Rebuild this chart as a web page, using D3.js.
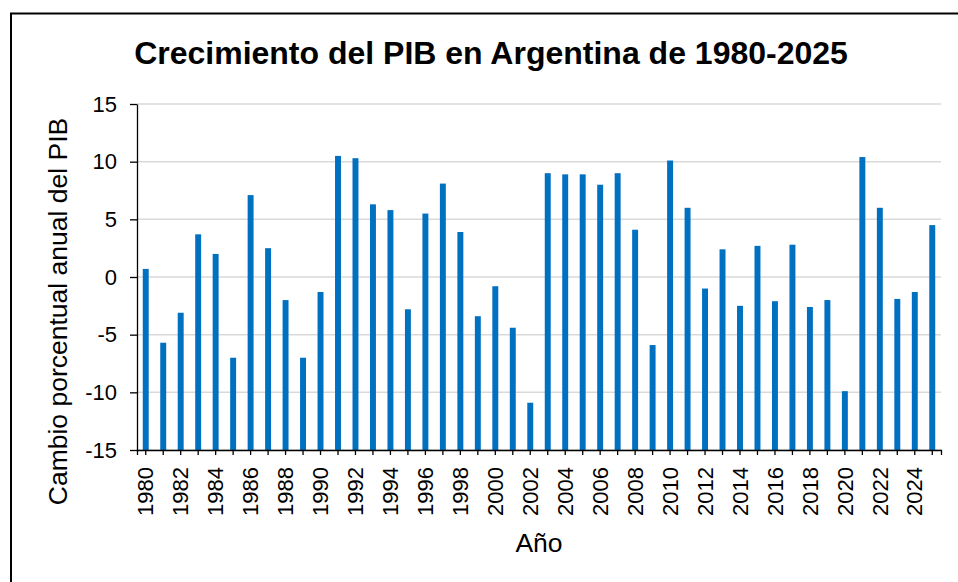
<!DOCTYPE html>
<html>
<head>
<meta charset="utf-8">
<script src="https://cdn.jsdelivr.net/npm/d3@7"></script>
<style>
  body { margin: 0; background: #fff; }
  svg { display: block; }
  text { font-family: "Liberation Sans", Arial, sans-serif; fill: #000; }
</style>
</head>
<body>
<svg id="chart" width="958" height="582"></svg>
<script>
const years = d3.range(1980, 2026);
const growth = [
  0.7, -5.7, -3.1, 3.7, 2.0, -7.0, 7.1, 2.5, -2.0, -7.0,
  -1.3, 10.5, 10.3, 6.3, 5.8, -2.8, 5.5, 8.1, 3.9, -3.4,
  -0.8, -4.4, -10.9, 9.0, 8.9, 8.9, 8.0, 9.0, 4.1, -5.9,
  10.1, 6.0, -1.0, 2.4, -2.5, 2.7, -2.1, 2.8, -2.6, -2.0,
  -9.9, 10.4, 6.0, -1.9, -1.3, 4.5
];
const yTicks = [-15, -10, -5, 0, 5, 10, 15];
const titleText = "Crecimiento del PIB en Argentina de 1980-2025";
const yTitle = "Cambio porcentual anual del PIB";
const xTitle = "Año";

const svg = d3.select("#chart");
const plot = { left: 137, right: 941, top: 104, bottom: 450 };

// outer frame
svg.append("rect")
  .attr("x", 11).attr("y", 13.5)
  .attr("width", 1000).attr("height", 1000)
  .attr("fill", "none").attr("stroke", "#000").attr("stroke-width", 2);

const x = d3.scaleBand()
  .domain(years)
  .range([plot.left, plot.right])
  .paddingInner(0.66)
  .paddingOuter(0.33);

const y = d3.scaleLinear().domain([-15, 15]).range([plot.bottom, plot.top]);
const base = y.domain()[0];

// gridlines
svg.append("g").selectAll("line")
  .data(yTicks)
  .join("line")
  .attr("x1", plot.left).attr("x2", plot.right)
  .attr("y1", d => y(d)).attr("y2", d => y(d))
  .attr("stroke", "#d9d9d9").attr("stroke-width", 1.5);

// bars (drawn from the axis minimum, where the category axis crosses)
svg.append("g").selectAll("rect")
  .data(years.map((yr, i) => ({ yr, v: growth[i] })))
  .join("rect")
  .attr("x", d => x(d.yr))
  .attr("width", x.bandwidth())
  .attr("y", d => y(d.v))
  .attr("height", d => y(base) - y(d.v))
  .attr("fill", "#0070C0");

// y axis
const yAxis = svg.append("g")
  .attr("transform", `translate(${plot.left},0)`)
  .call(d3.axisLeft(y).tickValues(yTicks).tickSize(7).tickSizeOuter(0).tickPadding(13)
    .tickFormat(d => String(d)));
yAxis.selectAll("path, line").attr("stroke", "#000").attr("stroke-width", 1.3);
yAxis.selectAll("text").style("font-size", "22px").attr("font-family", null);

// x axis
const xAxis = svg.append("g")
  .attr("transform", `translate(0,${plot.bottom})`)
  .call(d3.axisBottom(x).tickValues(years).tickSize(5).tickSizeOuter(5)
    .tickFormat(d => (d % 2 === 0 ? String(d) : "")));
xAxis.selectAll("path, line").attr("stroke", "#000").attr("stroke-width", 1.3);
xAxis.selectAll("text")
  .style("font-size", "22px").attr("font-family", null)
  .attr("transform", "rotate(-90)")
  .attr("text-anchor", "end")
  .attr("x", -17).attr("y", 0).attr("dy", "0.35em");

// title
svg.append("text")
  .attr("x", 491).attr("y", 63.5)
  .attr("text-anchor", "middle")
  .style("font-size", "32px").style("font-weight", "bold")
  .text(titleText);

// y title
svg.append("text")
  .attr("transform", "translate(67,311.5) rotate(-90)")
  .attr("text-anchor", "middle")
  .style("font-size", "26.5px")
  .text(yTitle);

// x title
svg.append("text")
  .attr("x", (plot.left + plot.right) / 2).attr("y", 552)
  .attr("text-anchor", "middle")
  .style("font-size", "26.5px")
  .text(xTitle);
</script>
</body>
</html>
